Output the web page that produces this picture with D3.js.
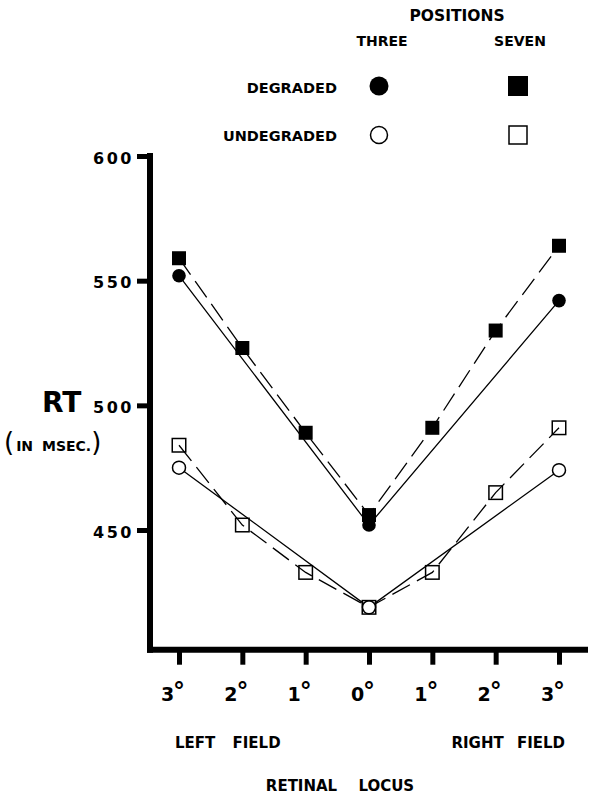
<!DOCTYPE html>
<html>
<head>
<meta charset="utf-8">
<script src="https://cdn.jsdelivr.net/npm/d3@7"></script>
<style>
  html, body { margin: 0; padding: 0; background: #fff; }
  svg text { font-family: "DejaVu Sans", sans-serif; font-weight: bold; fill: #000; }
</style>
</head>
<body>
<div id="chart"></div>
<script>
// retinal locus, left field 3..1, centre 0, right field 1..3
const tickLabels = ['3', '2', '1', '0', '1', '2', '3'];
const sevenLoci = [0, 1, 2, 3, 4, 5, 6];
const threeLoci = [0, 3, 6];
const yTicks = [450, 500, 550, 600];

// RT in msec
const degradedThree = [552, 452, 542];
const degradedSeven = [559, 523, 489, 456, 491, 530, 564];
const undegradedThree = [475, 419, 474];
const undegradedSeven = [484, 452, 433, 419, 433, 465, 491];

const width = 595;
const height = 796;

const svg = d3.select('#chart')
  .append('svg')
    .attr('width', width)
    .attr('height', height);

const x = d3.scaleLinear().domain([0, 6]).range([179, 559]);
const y = d3.scaleLinear().domain([400, 600]).range([654.7, 156]);

const axisX0 = 150;           // y axis position
const axisY0 = y(402);        // x axis position

// axes lines (thick, like the printed figure)
svg.append('line')
  .attr('x1', axisX0).attr('x2', axisX0)
  .attr('y1', y(600) - 3).attr('y2', axisY0 + 3)
  .attr('stroke', '#000').attr('stroke-width', 6);
svg.append('line')
  .attr('x1', axisX0 - 3).attr('x2', 588)
  .attr('y1', axisY0).attr('y2', axisY0)
  .attr('stroke', '#000').attr('stroke-width', 6);

// y axis ticks + labels
const yAxis = svg.append('g')
  .attr('transform', `translate(${axisX0},0)`)
  .call(d3.axisLeft(y).tickValues(yTicks).tickSize(13).tickSizeOuter(0).tickPadding(3).tickFormat(d3.format('d')));
yAxis.select('.domain').remove();
yAxis.selectAll('.tick line').attr('stroke', '#000').attr('stroke-width', 5);
yAxis.selectAll('.tick text')
  .attr('font-size', 16)
  .attr('letter-spacing', 2.5)
  .attr('dy', '0.45em');

// x axis ticks + labels
const xAxis = svg.append('g')
  .attr('transform', `translate(0,${axisY0})`)
  .call(d3.axisBottom(x).tickValues(sevenLoci).tickSize(15).tickSizeOuter(0).tickFormat(() => ''));
xAxis.select('.domain').remove();
xAxis.selectAll('.tick line').attr('stroke', '#000').attr('stroke-width', 5);
xAxis.selectAll('.tick text').remove();

const xl = svg.append('g').selectAll('text')
  .data(sevenLoci)
  .enter()
    .append('text')
      .attr('x', d => x(d) - 6)
      .attr('y', 701)
      .attr('font-size', 19)
      .attr('text-anchor', 'middle')
      .text(d => tickLabels[d]);
xl.append('tspan')
  .attr('font-size', 24)
  .attr('dy', -1)
  .attr('dx', -1)
  .text('°');

// axis titles
svg.append('text')
  .attr('x', 42).attr('y', 412)
  .attr('font-size', 28)
  .text('RT');
const unit = svg.append('text')
  .attr('x', 4).attr('y', 451)
  .attr('font-size', 14);
unit.append('tspan').attr('font-size', 26).attr('font-weight', 'normal').text('(');
unit.append('tspan').attr('dx', 2).attr('word-spacing', 4).text('IN MSEC.');
unit.append('tspan').attr('font-size', 26).attr('font-weight', 'normal').text(')');

svg.append('text')
  .attr('x', 175).attr('y', 748)
  .attr('font-size', 15)
  .attr('word-spacing', 12)
  .text('LEFT FIELD');
svg.append('text')
  .attr('x', 565).attr('y', 748)
  .attr('font-size', 15)
  .attr('word-spacing', 8)
  .attr('text-anchor', 'end')
  .text('RIGHT FIELD');
svg.append('text')
  .attr('x', 340).attr('y', 791)
  .attr('font-size', 15)
  .attr('word-spacing', 16)
  .attr('text-anchor', 'middle')
  .text('RETINAL LOCUS');

// lines
const line = d3.line()
  .x(d => x(d[0]))
  .y(d => y(d[1]));

const series = [
  { locs: sevenLoci, vals: degradedSeven, dashed: true, shape: 'square', filled: true },
  { locs: threeLoci, vals: degradedThree, dashed: false, shape: 'circle', filled: true },
  { locs: sevenLoci, vals: undegradedSeven, dashed: true, shape: 'square', filled: false },
  { locs: threeLoci, vals: undegradedThree, dashed: false, shape: 'circle', filled: false },
];

const plot = svg.append('g').attr('class', 'plot');
plot.selectAll('path.series')
  .data(series)
  .enter()
    .append('path')
      .attr('class', 'series')
      .attr('d', s => line(s.locs.map((l, i) => [l, s.vals[i]])))
      .attr('fill', 'none')
      .attr('stroke', '#000')
      .attr('stroke-width', 1.3)
      .attr('stroke-dasharray', s => s.dashed ? '20,8' : null);

// markers (circles below squares)
const drawOrder = [series[1], series[0], series[3], series[2]];
drawOrder.forEach(s => {
  const pts = s.locs.map((l, i) => [l, s.vals[i]]);
  const g = plot.append('g');
  if (s.shape === 'circle') {
    g.selectAll('circle')
      .data(pts)
      .enter()
        .append('circle')
          .attr('cx', d => x(d[0]))
          .attr('cy', d => y(d[1]))
          .attr('r', s.filled ? 6.8 : 6.5)
          .attr('fill', s.filled ? '#000' : '#fff')
          .attr('stroke', '#000')
          .attr('stroke-width', s.filled ? 0 : 1.5);
  } else {
    const sz = s.filled ? 14 : 13.5;
    g.selectAll('rect')
      .data(pts)
      .enter()
        .append('rect')
          .attr('x', d => x(d[0]) - sz / 2)
          .attr('y', d => y(d[1]) - sz / 2)
          .attr('width', sz)
          .attr('height', sz)
          .attr('fill', s.filled ? '#000' : '#fff')
          .attr('fill-opacity', s.filled ? 1 : 0)
          .attr('stroke', '#000')
          .attr('stroke-width', s.filled ? 0 : 1.5);
  }
});

// legend
const legend = svg.append('g').attr('class', 'legend');
legend.append('text').attr('x', 457).attr('y', 21).attr('font-size', 15.5).attr('text-anchor', 'middle').text('POSITIONS');
legend.append('text').attr('x', 382).attr('y', 46).attr('font-size', 14).attr('text-anchor', 'middle').text('THREE');
legend.append('text').attr('x', 520).attr('y', 46).attr('font-size', 14).attr('text-anchor', 'middle').text('SEVEN');
legend.append('text').attr('x', 337).attr('y', 93).attr('font-size', 14.5).attr('text-anchor', 'end').text('DEGRADED');
legend.append('text').attr('x', 337).attr('y', 141).attr('font-size', 14.5).attr('text-anchor', 'end').text('UNDEGRADED');
legend.append('circle').attr('cx', 379).attr('cy', 86).attr('r', 9.5).attr('fill', '#000');
legend.append('rect').attr('x', 508).attr('y', 76).attr('width', 20).attr('height', 20).attr('fill', '#000');
legend.append('circle').attr('cx', 379).attr('cy', 135).attr('r', 8.5).attr('fill', '#fff').attr('stroke', '#000').attr('stroke-width', 1.5);
legend.append('rect').attr('x', 509).attr('y', 126).attr('width', 18).attr('height', 18).attr('fill', '#fff').attr('stroke', '#000').attr('stroke-width', 1.5);
</script>
</body>
</html>
